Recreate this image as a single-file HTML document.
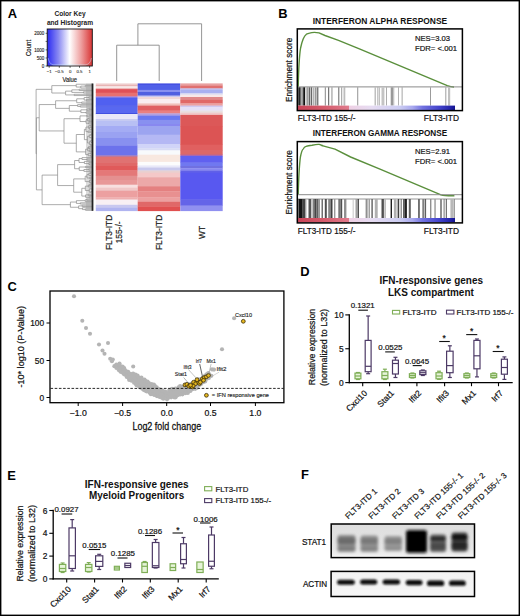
<!DOCTYPE html>
<html><head><meta charset="utf-8"><style>
html,body{margin:0;padding:0;background:#fff;}
svg{display:block;font-family:"Liberation Sans", sans-serif;}
</style></head><body>
<svg width="520" height="616" viewBox="0 0 520 616">
<rect x="0" y="0" width="520" height="616" fill="#fff"/>
<text x="7.8" y="17.7" font-size="12.9" text-anchor="start" font-weight="bold" fill="#000">A</text>
<text x="70" y="16" font-size="6.6" text-anchor="middle" font-weight="bold" fill="#222">Color Key</text>
<text x="70" y="24.6" font-size="6.6" text-anchor="middle" font-weight="bold" fill="#222">and Histogram</text>
<defs><linearGradient id="ck" x1="0" x2="1" y1="0" y2="0"><stop offset="0" stop-color="#2a2af2"/><stop offset="0.25" stop-color="#8a8af2"/><stop offset="0.5" stop-color="#ffffff"/><stop offset="0.75" stop-color="#eea0a0"/><stop offset="1" stop-color="#d83434"/></linearGradient></defs>
<rect x="47.2" y="29" width="45.1" height="37" fill="url(#ck)" stroke="#111" stroke-width="0.9"/>
<path d="M48.2 58 C49 62 50.5 64.3 53 64.8 L86 64.8 C89 64.3 90.6 62 91.4 58" fill="none" stroke="#c8f0ff" stroke-width="0.8" opacity="0.55"/>
<line x1="45.6" y1="33.3" x2="47.2" y2="33.3" stroke="#222" stroke-width="0.7"/>
<text x="44.2" y="34.9" font-size="4.5" text-anchor="end" fill="#222" stroke="#222" stroke-width="0.113">2000</text>
<line x1="45.6" y1="41.4" x2="47.2" y2="41.4" stroke="#222" stroke-width="0.7"/>
<line x1="45.6" y1="49.9" x2="47.2" y2="49.9" stroke="#222" stroke-width="0.7"/>
<text x="44.2" y="51.5" font-size="4.5" text-anchor="end" fill="#222" stroke="#222" stroke-width="0.113">1000</text>
<line x1="45.6" y1="58" x2="47.2" y2="58" stroke="#222" stroke-width="0.7"/>
<text x="44.2" y="59.6" font-size="4.5" text-anchor="end" fill="#222" stroke="#222" stroke-width="0.113">500</text>
<line x1="45.6" y1="66" x2="47.2" y2="66" stroke="#222" stroke-width="0.7"/>
<text x="44.2" y="67.6" font-size="4.5" text-anchor="end" fill="#222" stroke="#222" stroke-width="0.113">0</text>
<line x1="49.2" y1="66" x2="49.2" y2="67.8" stroke="#222" stroke-width="0.7"/>
<text x="49.2" y="73.4" font-size="4.3" text-anchor="middle" fill="#333" stroke="#333" stroke-width="0.107">−1</text>
<line x1="59.3" y1="66" x2="59.3" y2="67.8" stroke="#222" stroke-width="0.7"/>
<text x="59.3" y="73.4" font-size="4.3" text-anchor="middle" fill="#333" stroke="#333" stroke-width="0.107">−0.5</text>
<line x1="70.1" y1="66" x2="70.1" y2="67.8" stroke="#222" stroke-width="0.7"/>
<text x="70.1" y="73.4" font-size="4.3" text-anchor="middle" fill="#333" stroke="#333" stroke-width="0.107">0</text>
<line x1="79.5" y1="66" x2="79.5" y2="67.8" stroke="#222" stroke-width="0.7"/>
<text x="79.5" y="73.4" font-size="4.3" text-anchor="middle" fill="#333" stroke="#333" stroke-width="0.107">0.5</text>
<line x1="89.6" y1="66" x2="89.6" y2="67.8" stroke="#222" stroke-width="0.7"/>
<text x="89.6" y="73.4" font-size="4.3" text-anchor="middle" fill="#333" stroke="#333" stroke-width="0.107">1</text>
<text x="69.8" y="82.2" font-size="7.2" text-anchor="middle" fill="#222" stroke="#222" stroke-width="0.18" textLength="14.6" lengthAdjust="spacingAndGlyphs">Value</text>
<text x="31.2" y="48" font-size="7.0" text-anchor="middle" fill="#222" stroke="#222" stroke-width="0.175" transform="rotate(-90 31.2 48)" textLength="16.2" lengthAdjust="spacingAndGlyphs">Count</text>
<path d="M116.7 81 V45.2 H159.2 V81 M137.9 45.2 V23.8 H201.6 V81" fill="none" stroke="#8a8a8a" stroke-width="0.9"/>
<rect x="95.8" y="83.4" width="41.9" height="1.8" fill="#f0d0d0" stroke="none" stroke-width="1"/>
<rect x="95.8" y="84.9" width="41.9" height="1.7" fill="#e8b4b4" stroke="none" stroke-width="1"/>
<rect x="95.8" y="86.3" width="41.9" height="2.4" fill="#f8e8e8" stroke="none" stroke-width="1"/>
<rect x="95.8" y="88.4" width="41.9" height="1.0" fill="#e89090" stroke="none" stroke-width="1"/>
<rect x="95.8" y="89.1" width="41.9" height="3.9" fill="#e05058" stroke="none" stroke-width="1"/>
<rect x="95.8" y="92.7" width="41.9" height="3.9" fill="#e87070" stroke="none" stroke-width="1"/>
<rect x="95.8" y="96.3" width="41.9" height="1.4" fill="#a878c8" stroke="none" stroke-width="1"/>
<rect x="95.8" y="97.4" width="41.9" height="8.5" fill="#5060f0" stroke="none" stroke-width="1"/>
<rect x="95.8" y="105.6" width="41.9" height="1.3" fill="#4a58e8" stroke="none" stroke-width="1"/>
<rect x="95.8" y="106.6" width="41.9" height="6.7" fill="#5868f0" stroke="none" stroke-width="1"/>
<rect x="95.8" y="113.0" width="41.9" height="1.3" fill="#4050e0" stroke="none" stroke-width="1"/>
<rect x="95.8" y="114" width="41.9" height="5.3" fill="#e8e8f8" stroke="none" stroke-width="1"/>
<rect x="95.8" y="119" width="41.9" height="1.9" fill="#c8ccf0" stroke="none" stroke-width="1"/>
<rect x="95.8" y="120.6" width="41.9" height="5.7" fill="#b8c0f4" stroke="none" stroke-width="1"/>
<rect x="95.8" y="126" width="41.9" height="6.3" fill="#a4acf4" stroke="none" stroke-width="1"/>
<rect x="95.8" y="132" width="41.9" height="6.3" fill="#9aa2f2" stroke="none" stroke-width="1"/>
<rect x="95.8" y="138" width="41.9" height="7.7" fill="#8890f0" stroke="none" stroke-width="1"/>
<rect x="95.8" y="145.4" width="41.9" height="10.3" fill="#6c72ec" stroke="none" stroke-width="1"/>
<rect x="95.8" y="155.4" width="41.9" height="1.5" fill="#a070b0" stroke="none" stroke-width="1"/>
<rect x="95.8" y="156.6" width="41.9" height="6.7" fill="#e07272" stroke="none" stroke-width="1"/>
<rect x="95.8" y="163" width="41.9" height="3.3" fill="#e06868" stroke="none" stroke-width="1"/>
<rect x="95.8" y="166" width="41.9" height="4.8" fill="#e05a5a" stroke="none" stroke-width="1"/>
<rect x="95.8" y="170.5" width="41.9" height="5.5" fill="#e47878" stroke="none" stroke-width="1"/>
<rect x="95.8" y="175.7" width="41.9" height="4.6" fill="#e49090" stroke="none" stroke-width="1"/>
<rect x="95.8" y="180" width="41.9" height="5.0" fill="#e89898" stroke="none" stroke-width="1"/>
<rect x="95.8" y="184.7" width="41.9" height="3.3" fill="#f8e0e0" stroke="none" stroke-width="1"/>
<rect x="95.8" y="187.7" width="41.9" height="3.2" fill="#f0c8c8" stroke="none" stroke-width="1"/>
<rect x="95.8" y="190.6" width="41.9" height="7.1" fill="#eca0a0" stroke="none" stroke-width="1"/>
<rect x="95.8" y="197.4" width="41.9" height="2.5" fill="#eeb0b0" stroke="none" stroke-width="1"/>
<rect x="95.8" y="199.6" width="41.9" height="5.5" fill="#f8f0f4" stroke="none" stroke-width="1"/>
<rect x="95.8" y="204.8" width="41.9" height="3.3" fill="#c8c8f0" stroke="none" stroke-width="1"/>
<rect x="95.8" y="207.8" width="41.9" height="3.3" fill="#b0b4f0" stroke="none" stroke-width="1"/>
<rect x="137.7" y="83.4" width="42.6" height="1.8" fill="#4450e0" stroke="none" stroke-width="1"/>
<rect x="137.7" y="84.9" width="42.6" height="5.3" fill="#5060e8" stroke="none" stroke-width="1"/>
<rect x="137.7" y="89.9" width="42.6" height="2.4" fill="#8890f0" stroke="none" stroke-width="1"/>
<rect x="137.7" y="92" width="42.6" height="3.9" fill="#5060e0" stroke="none" stroke-width="1"/>
<rect x="137.7" y="95.6" width="42.6" height="1.7" fill="#c8c8f0" stroke="none" stroke-width="1"/>
<rect x="137.7" y="97" width="42.6" height="2.4" fill="#f0d8d8" stroke="none" stroke-width="1"/>
<rect x="137.7" y="99.1" width="42.6" height="4.6" fill="#faeeee" stroke="none" stroke-width="1"/>
<rect x="137.7" y="103.4" width="42.6" height="2.5" fill="#f0c0b8" stroke="none" stroke-width="1"/>
<rect x="137.7" y="105.6" width="42.6" height="5.3" fill="#e06060" stroke="none" stroke-width="1"/>
<rect x="137.7" y="110.6" width="42.6" height="3.1" fill="#e88080" stroke="none" stroke-width="1"/>
<rect x="137.7" y="113.4" width="42.6" height="2.5" fill="#b0a0e0" stroke="none" stroke-width="1"/>
<rect x="137.7" y="115.6" width="42.6" height="4.6" fill="#6878f0" stroke="none" stroke-width="1"/>
<rect x="137.7" y="119.9" width="42.6" height="4.4" fill="#8890f0" stroke="none" stroke-width="1"/>
<rect x="137.7" y="124" width="42.6" height="2.3" fill="#8888f0" stroke="none" stroke-width="1"/>
<rect x="137.7" y="126" width="42.6" height="9.0" fill="#9ca4f0" stroke="none" stroke-width="1"/>
<rect x="137.7" y="134.7" width="42.6" height="9.6" fill="#b4b8f4" stroke="none" stroke-width="1"/>
<rect x="137.7" y="144" width="42.6" height="4.6" fill="#d0d4f8" stroke="none" stroke-width="1"/>
<rect x="137.7" y="148.3" width="42.6" height="2.4" fill="#d8dcf4" stroke="none" stroke-width="1"/>
<rect x="137.7" y="150.4" width="42.6" height="4.6" fill="#f8fafc" stroke="none" stroke-width="1"/>
<rect x="137.7" y="154.7" width="42.6" height="7.5" fill="#f8e8e0" stroke="none" stroke-width="1"/>
<rect x="137.7" y="161.9" width="42.6" height="3.8" fill="#fcfcfc" stroke="none" stroke-width="1"/>
<rect x="137.7" y="165.4" width="42.6" height="2.4" fill="#e8e8f8" stroke="none" stroke-width="1"/>
<rect x="137.7" y="167.5" width="42.6" height="3.3" fill="#c8c8ec" stroke="none" stroke-width="1"/>
<rect x="137.7" y="170.5" width="42.6" height="2.5" fill="#e8d0d0" stroke="none" stroke-width="1"/>
<rect x="137.7" y="172.7" width="42.6" height="4.8" fill="#f4c8c8" stroke="none" stroke-width="1"/>
<rect x="137.7" y="177.2" width="42.6" height="9.3" fill="#eca8a8" stroke="none" stroke-width="1"/>
<rect x="137.7" y="186.2" width="42.6" height="5.5" fill="#e48080" stroke="none" stroke-width="1"/>
<rect x="137.7" y="191.4" width="42.6" height="6.3" fill="#e89090" stroke="none" stroke-width="1"/>
<rect x="137.7" y="197.4" width="42.6" height="4.7" fill="#eca0a0" stroke="none" stroke-width="1"/>
<rect x="137.7" y="201.8" width="42.6" height="4.8" fill="#e06868" stroke="none" stroke-width="1"/>
<rect x="137.7" y="206.3" width="42.6" height="4.8" fill="#e05050" stroke="none" stroke-width="1"/>
<rect x="180.3" y="83.4" width="42.4" height="2.5" fill="#e8a0a0" stroke="none" stroke-width="1"/>
<rect x="180.3" y="85.6" width="42.4" height="3.1" fill="#e07070" stroke="none" stroke-width="1"/>
<rect x="180.3" y="88.4" width="42.4" height="1.8" fill="#c0c0f0" stroke="none" stroke-width="1"/>
<rect x="180.3" y="89.9" width="42.4" height="3.8" fill="#a8b0f0" stroke="none" stroke-width="1"/>
<rect x="180.3" y="93.4" width="42.4" height="1.8" fill="#e0e0f0" stroke="none" stroke-width="1"/>
<rect x="180.3" y="94.9" width="42.4" height="2.4" fill="#f8e8e8" stroke="none" stroke-width="1"/>
<rect x="180.3" y="97" width="42.4" height="3.2" fill="#e08888" stroke="none" stroke-width="1"/>
<rect x="180.3" y="99.9" width="42.4" height="3.8" fill="#e06868" stroke="none" stroke-width="1"/>
<rect x="180.3" y="103.4" width="42.4" height="2.5" fill="#eca0a0" stroke="none" stroke-width="1"/>
<rect x="180.3" y="105.6" width="42.4" height="1.7" fill="#d0c8f0" stroke="none" stroke-width="1"/>
<rect x="180.3" y="107" width="42.4" height="3.9" fill="#e4e0f8" stroke="none" stroke-width="1"/>
<rect x="180.3" y="110.6" width="42.4" height="2.4" fill="#e8e0e0" stroke="none" stroke-width="1"/>
<rect x="180.3" y="112.7" width="42.4" height="2.5" fill="#f0c8c8" stroke="none" stroke-width="1"/>
<rect x="180.3" y="114.9" width="42.4" height="11.4" fill="#dc5858" stroke="none" stroke-width="1"/>
<rect x="180.3" y="126" width="42.4" height="19.0" fill="#dc5454" stroke="none" stroke-width="1"/>
<rect x="180.3" y="144.7" width="42.4" height="5.6" fill="#e06060" stroke="none" stroke-width="1"/>
<rect x="180.3" y="150" width="42.4" height="5.0" fill="#dc6868" stroke="none" stroke-width="1"/>
<rect x="180.3" y="154.7" width="42.4" height="1.6" fill="#a868b0" stroke="none" stroke-width="1"/>
<rect x="180.3" y="156" width="42.4" height="6.9" fill="#6060f0" stroke="none" stroke-width="1"/>
<rect x="180.3" y="162.6" width="42.4" height="3.7" fill="#7078f0" stroke="none" stroke-width="1"/>
<rect x="180.3" y="166" width="42.4" height="2.5" fill="#7070e0" stroke="none" stroke-width="1"/>
<rect x="180.3" y="168.2" width="42.4" height="2.6" fill="#8888f0" stroke="none" stroke-width="1"/>
<rect x="180.3" y="170.5" width="42.4" height="2.5" fill="#6060e8" stroke="none" stroke-width="1"/>
<rect x="180.3" y="172.7" width="42.4" height="27.2" fill="#5858f0" stroke="none" stroke-width="1"/>
<rect x="180.3" y="199.6" width="42.4" height="6.3" fill="#6464e8" stroke="none" stroke-width="1"/>
<rect x="180.3" y="205.6" width="42.4" height="5.5" fill="#9090f0" stroke="none" stroke-width="1"/>
<path d="M85.18 85.47V86.72M85.18 85.47H93.00M85.18 86.72H93.00M80.80 86.10V87.97M80.80 86.10H85.18M80.80 87.97H93.00M76.20 84.22V87.04M76.20 84.22H93.00M76.20 87.04H80.80M51.80 85.63H76.20M79.19 89.23V90.50M79.19 89.23H93.00M79.19 90.50H93.00M83.44 91.77V93.03M83.44 91.77H93.00M83.44 93.03H93.00M71.82 89.87V92.40M71.82 89.87H79.19M71.82 92.40H83.44M74.25 94.30V95.57M74.25 94.30H93.00M74.25 95.57H93.00M65.60 91.13V94.93M65.60 91.13H71.82M65.60 94.93H74.25M51.80 93.03H65.60M51.80 85.63V93.03M36.10 89.33H51.80M88.87 96.85V98.15M88.87 96.85H93.00M88.87 98.15H93.00M86.40 99.45V100.75M86.40 99.45H93.00M86.40 100.75H93.00M84.15 97.50V100.10M84.15 97.50H88.87M84.15 100.10H86.40M81.65 102.05V103.35M81.65 102.05H93.00M81.65 103.35H93.00M76.70 98.80V102.70M76.70 98.80H84.15M76.70 102.70H81.65M55.60 100.75H76.70M80.22 105.84V107.06M80.22 105.84H93.00M80.22 107.06H93.00M77.62 104.61V106.45M77.62 104.61H93.00M77.62 106.45H80.22M89.17 108.29V109.51M89.17 108.29H93.00M89.17 109.51H93.00M86.93 108.90V110.74M86.93 108.90H89.17M86.93 110.74H93.00M85.88 111.96V113.19M85.88 111.96H93.00M85.88 113.19H93.00M80.87 109.82V112.57M80.87 109.82H86.93M80.87 112.57H85.88M69.30 105.53V111.20M69.30 105.53H77.62M69.30 111.20H80.87M55.60 108.36H69.30M55.60 100.75V108.36M39.20 104.56H55.60M89.71 114.39V115.58M89.71 114.39H93.00M89.71 115.58H93.00M86.96 114.99V116.77M86.96 114.99H89.71M86.96 116.77H93.00M88.77 117.96V119.15M88.77 117.96H93.00M88.77 119.15H93.00M88.85 120.34V121.53M88.85 120.34H93.00M88.85 121.53H93.00M87.40 118.56V120.93M87.40 118.56H88.77M87.40 120.93H88.85M88.56 122.72V123.91M88.56 122.72H93.00M88.56 123.91H93.00M86.07 119.74V123.31M86.07 119.74H87.40M86.07 123.31H88.56M80.00 115.88V121.53M80.00 115.88H86.96M80.00 121.53H86.07M64.00 118.70H80.00M90.27 125.10V126.29M90.27 125.10H93.00M90.27 126.29H93.00M91.31 128.68V129.88M91.31 128.68H93.00M91.31 129.88H93.00M89.33 127.49V129.28M89.33 127.49H93.00M89.33 129.28H91.31M88.68 125.69V128.38M88.68 125.69H90.27M88.68 128.38H89.33M87.81 131.07V132.26M87.81 131.07H93.00M87.81 132.26H93.00M85.95 127.04V131.67M85.95 127.04H88.68M85.95 131.67H87.81M91.65 133.46V134.65M91.65 133.46H93.00M91.65 134.65H93.00M90.99 134.06V135.85M90.99 134.06H91.65M90.99 135.85H93.00M91.05 137.04V138.24M91.05 137.04H93.00M91.05 138.24H93.00M89.26 134.95V137.64M89.26 134.95H90.99M89.26 137.64H91.05M91.89 139.43V140.62M91.89 139.43H93.00M91.89 140.62H93.00M92.08 141.82V143.01M92.08 141.82H93.00M92.08 143.01H93.00M91.07 140.03V142.42M91.07 140.03H91.89M91.07 142.42H92.08M90.50 144.21V145.40M90.50 144.21H93.00M90.50 145.40H93.00M89.71 141.22V144.81M89.71 141.22H91.07M89.71 144.81H90.50M87.42 136.30V143.01M87.42 136.30H89.26M87.42 143.01H89.71M84.40 129.35V139.65M84.40 129.35H85.95M84.40 139.65H87.42M76.30 134.50H84.40M89.24 147.83V149.06M89.24 147.83H93.00M89.24 149.06H93.00M88.56 146.61V148.44M88.56 146.61H93.00M88.56 148.44H89.24M89.34 150.28V151.50M89.34 150.28H93.00M89.34 151.50H93.00M87.67 147.53V150.89M87.67 147.53H88.56M87.67 150.89H89.34M90.37 152.72V153.94M90.37 152.72H93.00M90.37 153.94H93.00M90.54 155.17V156.39M90.54 155.17H93.00M90.54 156.39H93.00M88.22 153.33V155.78M88.22 153.33H90.37M88.22 155.78H90.54M85.60 149.21V154.56M85.60 149.21H87.67M85.60 154.56H88.22M76.30 151.88H85.60M76.30 134.50V151.88M64.00 143.19H76.30M64.00 118.70V143.19M39.20 130.95H64.00M39.20 104.56V130.95M36.40 117.75H39.20M86.93 158.88V160.12M86.93 158.88H93.00M86.93 160.12H93.00M82.03 157.62V159.50M82.03 157.62H93.00M82.03 159.50H86.93M89.66 163.88V165.12M89.66 163.88H93.00M89.66 165.12H93.00M88.87 162.62V164.50M88.87 162.62H93.00M88.87 164.50H89.66M84.37 161.38V163.56M84.37 161.38H93.00M84.37 163.56H88.87M79.02 158.56V162.47M79.02 158.56H82.03M79.02 162.47H84.37M85.41 166.38V167.62M85.41 166.38H93.00M85.41 167.62H93.00M88.81 168.88V170.12M88.81 168.88H93.00M88.81 170.12H93.00M83.91 169.50V171.38M83.91 169.50H88.81M83.91 171.38H93.00M79.23 167.00V170.44M79.23 167.00H85.41M79.23 170.44H83.91M74.60 160.52V168.72M74.60 160.52H79.02M74.60 168.72H79.23M57.60 164.62H74.60M90.18 172.60V173.80M90.18 172.60H93.00M90.18 173.80H93.00M90.63 175.00V176.20M90.63 175.00H93.00M90.63 176.20H93.00M88.86 173.20V175.60M88.86 173.20H90.18M88.86 175.60H90.63M89.64 177.40V178.60M89.64 177.40H93.00M89.64 178.60H93.00M87.01 174.40V178.00M87.01 174.40H88.86M87.01 178.00H89.64M90.05 179.80V181.00M90.05 179.80H93.00M90.05 181.00H93.00M90.57 182.20V183.40M90.57 182.20H93.00M90.57 183.40H93.00M89.46 180.40V182.80M89.46 180.40H90.05M89.46 182.80H90.57M85.20 176.20V181.60M85.20 176.20H87.01M85.20 181.60H89.46M73.70 178.90H85.20M89.19 184.60V185.81M89.19 184.60H93.00M89.19 185.81H93.00M88.31 185.21V187.02M88.31 185.21H89.19M88.31 187.02H93.00M91.28 188.23V189.44M91.28 188.23H93.00M91.28 189.44H93.00M91.65 190.65V191.85M91.65 190.65H93.00M91.65 191.85H93.00M91.11 191.25V193.06M91.11 191.25H91.65M91.11 193.06H93.00M89.26 188.83V192.16M89.26 188.83H91.28M89.26 192.16H91.11M85.34 186.11V190.49M85.34 186.11H88.31M85.34 190.49H89.26M88.17 194.27V195.48M88.17 194.27H93.00M88.17 195.48H93.00M89.15 196.69V197.90M89.15 196.69H93.00M89.15 197.90H93.00M85.55 194.88V197.29M85.55 194.88H88.17M85.55 197.29H89.15M81.80 188.30V196.08M81.80 188.30H85.34M81.80 196.08H85.55M73.70 192.19H81.80M73.70 178.90V192.19M57.60 185.55H73.70M57.60 164.62V185.55M42.10 175.08H57.60M86.79 199.12V200.35M86.79 199.12H93.00M86.79 200.35H93.00M85.23 199.73V201.57M85.23 199.73H86.79M85.23 201.57H93.00M80.29 202.81V204.04M80.29 202.81H93.00M80.29 204.04H93.00M76.41 200.65V203.42M76.41 200.65H85.23M76.41 203.42H80.29M82.15 205.26V206.50M82.15 205.26H93.00M82.15 206.50H93.00M85.31 208.95V210.19M85.31 208.95H93.00M85.31 210.19H93.00M82.45 207.73V209.57M82.45 207.73H93.00M82.45 209.57H85.31M78.64 205.88V208.65M78.64 205.88H82.15M78.64 208.65H82.45M70.40 202.04V207.26M70.40 202.04H76.41M70.40 207.26H78.64M42.10 204.65H70.40M42.10 175.08V204.65M36.40 189.87H42.10M36.40 117.75V189.87M36.10 153.81H36.40M36.10 89.33V153.81" fill="none" stroke="#8a8a8a" stroke-width="0.7"/>
<rect x="86" y="83.6" width="5.6" height="127.2" fill="#999" opacity="0.35"/>
<rect x="91.6" y="83.5" width="1.8" height="127.3" fill="#222" stroke="none" stroke-width="1"/>
<text x="111.6" y="232.4" font-size="8.4" text-anchor="middle" fill="#222" stroke="#222" stroke-width="0.21" transform="rotate(-90 111.6 232.4)">FLT3-ITD</text>
<text x="121.8" y="232.4" font-size="8.4" text-anchor="middle" fill="#222" stroke="#222" stroke-width="0.21" transform="rotate(-90 121.8 232.4)">155-/-</text>
<text x="162" y="232.4" font-size="8.4" text-anchor="middle" fill="#222" stroke="#222" stroke-width="0.21" transform="rotate(-90 162 232.4)">FLT3-ITD</text>
<text x="204.6" y="232.4" font-size="8.4" text-anchor="middle" fill="#222" stroke="#222" stroke-width="0.21" transform="rotate(-90 204.6 232.4)">WT</text>
<text x="278.2" y="17.8" font-size="12.9" text-anchor="start" font-weight="bold" fill="#000">B</text>
<text x="379.9" y="23.6" font-size="8.8" text-anchor="middle" font-weight="bold" fill="#111" textLength="134.5" lengthAdjust="spacingAndGlyphs">INTERFERON ALPHA RESPONSE</text>
<path d="M298.2 87 C298.6 70 299.2 56 300.6 48 C302 41 304 36 306.4 34.2 L309.5 33.2 C312 32.3 316 32.3 319 32.9 L325 35.5 L338.5 40.4 L360 49.2 L447.3 85.6 C450 86.6 452 87 454 87" fill="none" stroke="#5a8f3c" stroke-width="1.4" stroke-linejoin="round"/>
<line x1="297.6" y1="86.9" x2="462" y2="86.9" stroke="#8a8a8a" stroke-width="1"/>
<rect x="298.3" y="87.3" width="1.6" height="18.299999999999997" fill="#111" stroke="none" stroke-width="1"/>
<rect x="300.3" y="87.3" width="1.0" height="18.299999999999997" fill="#333" stroke="none" stroke-width="1"/>
<rect x="301.8" y="87.3" width="0.8" height="18.299999999999997" fill="#555" stroke="none" stroke-width="1"/>
<rect x="303.2" y="87.3" width="1.9" height="18.299999999999997" fill="#111" stroke="none" stroke-width="1"/>
<rect x="305.8" y="87.3" width="0.8" height="18.299999999999997" fill="#999" stroke="none" stroke-width="1"/>
<rect x="307.3" y="87.3" width="1.2" height="18.299999999999997" fill="#777" stroke="none" stroke-width="1"/>
<rect x="309.0" y="87.3" width="1.4" height="18.299999999999997" fill="#666" stroke="none" stroke-width="1"/>
<rect x="311.2" y="87.3" width="1.0" height="18.299999999999997" fill="#444" stroke="none" stroke-width="1"/>
<rect x="313.1" y="87.3" width="1.2" height="18.299999999999997" fill="#aaa" stroke="none" stroke-width="1"/>
<rect x="314.8" y="87.3" width="1.8" height="18.299999999999997" fill="#999" stroke="none" stroke-width="1"/>
<rect x="317.3" y="87.3" width="1.0" height="18.299999999999997" fill="#444" stroke="none" stroke-width="1"/>
<rect x="324.8" y="87.3" width="1.0" height="18.299999999999997" fill="#888" stroke="none" stroke-width="1"/>
<rect x="328.2" y="87.3" width="1.0" height="18.299999999999997" fill="#555" stroke="none" stroke-width="1"/>
<rect x="331.4" y="87.3" width="1.1" height="18.299999999999997" fill="#999" stroke="none" stroke-width="1"/>
<rect x="338.3" y="87.3" width="1.0" height="18.299999999999997" fill="#666" stroke="none" stroke-width="1"/>
<rect x="341.2" y="87.3" width="1.0" height="18.299999999999997" fill="#999" stroke="none" stroke-width="1"/>
<rect x="343.5" y="87.3" width="1.1" height="18.299999999999997" fill="#bbb" stroke="none" stroke-width="1"/>
<rect x="344.6" y="87.3" width="0.6" height="18.299999999999997" fill="#999" stroke="none" stroke-width="1"/>
<rect x="357.3" y="87.3" width="0.9" height="18.299999999999997" fill="#888" stroke="none" stroke-width="1"/>
<rect x="374.6" y="87.3" width="1.2" height="18.299999999999997" fill="#b0b0b0" stroke="none" stroke-width="1"/>
<rect x="377.5" y="87.3" width="0.8" height="18.299999999999997" fill="#909090" stroke="none" stroke-width="1"/>
<rect x="379.2" y="87.3" width="0.8" height="18.299999999999997" fill="#b0b0b0" stroke="none" stroke-width="1"/>
<rect x="381.5" y="87.3" width="2.9" height="18.299999999999997" fill="#c4c4c4" stroke="none" stroke-width="1"/>
<rect x="386.1" y="87.3" width="0.8" height="18.299999999999997" fill="#999" stroke="none" stroke-width="1"/>
<rect x="390.7" y="87.3" width="2.3" height="18.299999999999997" fill="#999" stroke="none" stroke-width="1"/>
<rect x="393.4" y="87.3" width="0.8" height="18.299999999999997" fill="#a0a0a0" stroke="none" stroke-width="1"/>
<rect x="398.2" y="87.3" width="0.8" height="18.299999999999997" fill="#a0a0a0" stroke="none" stroke-width="1"/>
<rect x="401.7" y="87.3" width="0.8" height="18.299999999999997" fill="#909090" stroke="none" stroke-width="1"/>
<rect x="430.0" y="87.3" width="0.9" height="18.299999999999997" fill="#909090" stroke="none" stroke-width="1"/>
<rect x="445.3" y="87.3" width="1.0" height="18.299999999999997" fill="#a0a0a0" stroke="none" stroke-width="1"/>
<rect x="448.0" y="87.3" width="2.2" height="18.299999999999997" fill="#c0c0c0" stroke="none" stroke-width="1"/>
<defs><linearGradient id="ga1" x1="0" x2="1"><stop offset="0" stop-color="#c84458"/><stop offset="0.15" stop-color="#d45a6a"/><stop offset="0.31" stop-color="#e07a8c"/><stop offset="0.315" stop-color="#eed0e4"/><stop offset="0.45" stop-color="#e6dcf2"/><stop offset="0.62" stop-color="#cccdf2"/><stop offset="0.7" stop-color="#a8a8ee"/><stop offset="0.76" stop-color="#7272e0"/><stop offset="0.86" stop-color="#4444cc"/><stop offset="0.93" stop-color="#2424a8"/><stop offset="0.955" stop-color="#141492"/><stop offset="0.956" stop-color="#ffffff"/><stop offset="1" stop-color="#ffffff"/></linearGradient></defs>
<rect x="297.6" y="105.6" width="164.4" height="4.400000000000006" fill="url(#ga1)" stroke="none" stroke-width="1"/>
<rect x="297.3" y="28.9" width="165.1" height="81.69999999999999" fill="none" stroke="#000" stroke-width="1.5"/>
<text x="415" y="41.3" font-size="7.8" text-anchor="start" fill="#111" stroke="#111" stroke-width="0.195" textLength="35" lengthAdjust="spacingAndGlyphs">NES=3.03</text>
<text x="415" y="51.3" font-size="7.8" text-anchor="start" fill="#111" stroke="#111" stroke-width="0.195" textLength="42" lengthAdjust="spacingAndGlyphs">FDR= &lt;.001</text>
<text x="292.0" y="69.75" font-size="8.2" text-anchor="middle" fill="#111" stroke="#111" stroke-width="0.205" transform="rotate(-90 292.0 69.75)" textLength="64.4" lengthAdjust="spacingAndGlyphs">Enrichment score</text>
<text x="297.8" y="121.3" font-size="9.0" text-anchor="start" fill="#111" stroke="#111" stroke-width="0.225" textLength="57.6" lengthAdjust="spacingAndGlyphs">FLT3-ITD 155-/-</text>
<text x="459" y="121.3" font-size="9.0" text-anchor="end" fill="#111" stroke="#111" stroke-width="0.225" textLength="35.2" lengthAdjust="spacingAndGlyphs">FLT3-ITD</text>
<text x="379.9" y="136.4" font-size="8.8" text-anchor="middle" font-weight="bold" fill="#111" textLength="134.5" lengthAdjust="spacingAndGlyphs">INTERFERON GAMMA RESPONSE</text>
<path d="M298.2 194.5 C298.6 180 299.2 166 300.4 157 C301.4 152 302.4 149.5 303.2 149 C304 147.4 305 146.6 306 146.4 C308 145.6 310 145.4 312 145.2 C315 144.6 317 144.2 319 144.4 C321 145 322 145.6 323 145.8 L335 149.2 L350.6 157 L380 169.1 L441 194.8 C444 195.8 447 195.9 454.4 195.8" fill="none" stroke="#5a8f3c" stroke-width="1.4" stroke-linejoin="round"/>
<line x1="297.6" y1="194.7" x2="462" y2="194.7" stroke="#8a8a8a" stroke-width="1"/>
<line x1="297.6" y1="199.0" x2="462" y2="199.0" stroke="#8a8a8a" stroke-width="0.9"/>
<rect x="298.4" y="199.0" width="4.3" height="19.0" fill="#141414" stroke="none" stroke-width="1"/>
<rect x="302.7" y="199.0" width="2.9" height="19.0" fill="#444" stroke="none" stroke-width="1"/>
<rect x="305.6" y="199.0" width="1.0" height="19.0" fill="#c0c0c0" stroke="none" stroke-width="1"/>
<rect x="308.5" y="199.0" width="2.9" height="19.0" fill="#555" stroke="none" stroke-width="1"/>
<rect x="311.4" y="199.0" width="1.4" height="19.0" fill="#d0d0d0" stroke="none" stroke-width="1"/>
<rect x="312.8" y="199.0" width="1.5" height="19.0" fill="#808080" stroke="none" stroke-width="1"/>
<rect x="314.3" y="199.0" width="2.2" height="19.0" fill="#454545" stroke="none" stroke-width="1"/>
<rect x="316.5" y="199.0" width="2.1" height="19.0" fill="#606060" stroke="none" stroke-width="1"/>
<rect x="318.6" y="199.0" width="1.4" height="19.0" fill="#999" stroke="none" stroke-width="1"/>
<rect x="321.5" y="199.0" width="1.5" height="19.0" fill="#707070" stroke="none" stroke-width="1"/>
<rect x="324.8" y="199.0" width="2.0" height="19.0" fill="#505050" stroke="none" stroke-width="1"/>
<rect x="328.2" y="199.0" width="2.4" height="19.0" fill="#858585" stroke="none" stroke-width="1"/>
<rect x="330.6" y="199.0" width="1.9" height="19.0" fill="#404040" stroke="none" stroke-width="1"/>
<rect x="334" y="199.0" width="1.4" height="19.0" fill="#999" stroke="none" stroke-width="1"/>
<rect x="338.3" y="199.0" width="2.4" height="19.0" fill="#757575" stroke="none" stroke-width="1"/>
<rect x="340.7" y="199.0" width="1.5" height="19.0" fill="#505050" stroke="none" stroke-width="1"/>
<rect x="344" y="199.0" width="2.4" height="19.0" fill="#909090" stroke="none" stroke-width="1"/>
<rect x="352.7" y="199.0" width="0.9" height="19.0" fill="#c0c0c0" stroke="none" stroke-width="1"/>
<rect x="355.5" y="199.0" width="1.5" height="19.0" fill="#a0a0a0" stroke="none" stroke-width="1"/>
<rect x="357.5" y="199.0" width="1.4" height="19.0" fill="#404040" stroke="none" stroke-width="1"/>
<rect x="365.6" y="199.0" width="2.0" height="19.0" fill="#909090" stroke="none" stroke-width="1"/>
<rect x="368.5" y="199.0" width="1.5" height="19.0" fill="#a0a0a0" stroke="none" stroke-width="1"/>
<rect x="371.4" y="199.0" width="1.4" height="19.0" fill="#606060" stroke="none" stroke-width="1"/>
<rect x="374.8" y="199.0" width="2.9" height="19.0" fill="#b0b0b0" stroke="none" stroke-width="1"/>
<rect x="381.5" y="199.0" width="2.4" height="19.0" fill="#505050" stroke="none" stroke-width="1"/>
<rect x="384.4" y="199.0" width="1.4" height="19.0" fill="#b0b0b0" stroke="none" stroke-width="1"/>
<rect x="390.6" y="199.0" width="1.4" height="19.0" fill="#202020" stroke="none" stroke-width="1"/>
<rect x="393.9" y="199.0" width="2.4" height="19.0" fill="#b0b0b0" stroke="none" stroke-width="1"/>
<rect x="396.3" y="199.0" width="1.5" height="19.0" fill="#c8c8c8" stroke="none" stroke-width="1"/>
<rect x="397.8" y="199.0" width="1.4" height="19.0" fill="#404040" stroke="none" stroke-width="1"/>
<rect x="400.7" y="199.0" width="0.9" height="19.0" fill="#505050" stroke="none" stroke-width="1"/>
<rect x="403" y="199.0" width="1.5" height="19.0" fill="#606060" stroke="none" stroke-width="1"/>
<rect x="404.5" y="199.0" width="2.4" height="19.0" fill="#202020" stroke="none" stroke-width="1"/>
<rect x="408.8" y="199.0" width="2.0" height="19.0" fill="#606060" stroke="none" stroke-width="1"/>
<rect x="418" y="199.0" width="1.9" height="19.0" fill="#707070" stroke="none" stroke-width="1"/>
<rect x="422.3" y="199.0" width="1.9" height="19.0" fill="#808080" stroke="none" stroke-width="1"/>
<rect x="424.7" y="199.0" width="1.4" height="19.0" fill="#606060" stroke="none" stroke-width="1"/>
<rect x="430" y="199.0" width="1.4" height="19.0" fill="#909090" stroke="none" stroke-width="1"/>
<rect x="434.3" y="199.0" width="1.5" height="19.0" fill="#a0a0a0" stroke="none" stroke-width="1"/>
<rect x="440" y="199.0" width="2" height="19.0" fill="#909090" stroke="none" stroke-width="1"/>
<rect x="443.6" y="199.0" width="1.0" height="19.0" fill="#777" stroke="none" stroke-width="1"/>
<rect x="445.8" y="199.0" width="1.0" height="19.0" fill="#555" stroke="none" stroke-width="1"/>
<rect x="450.4" y="199.0" width="3.4" height="19.0" fill="#b8b8b8" stroke="none" stroke-width="1"/>
<rect x="454.2" y="199.0" width="0.8" height="19.0" fill="#888" stroke="none" stroke-width="1"/>
<defs><linearGradient id="ga2" x1="0" x2="1"><stop offset="0" stop-color="#c84458"/><stop offset="0.15" stop-color="#d45a6a"/><stop offset="0.31" stop-color="#e07a8c"/><stop offset="0.315" stop-color="#eed0e4"/><stop offset="0.45" stop-color="#e6dcf2"/><stop offset="0.62" stop-color="#cccdf2"/><stop offset="0.7" stop-color="#a8a8ee"/><stop offset="0.76" stop-color="#7272e0"/><stop offset="0.86" stop-color="#4444cc"/><stop offset="0.93" stop-color="#2424a8"/><stop offset="0.955" stop-color="#141492"/><stop offset="0.956" stop-color="#ffffff"/><stop offset="1" stop-color="#ffffff"/></linearGradient></defs>
<rect x="297.6" y="218" width="164.4" height="4.400000000000006" fill="url(#ga2)" stroke="none" stroke-width="1"/>
<rect x="297.3" y="141.6" width="165.1" height="81.30000000000001" fill="none" stroke="#000" stroke-width="1.5"/>
<text x="415" y="153.8" font-size="7.8" text-anchor="start" fill="#111" stroke="#111" stroke-width="0.195" textLength="35" lengthAdjust="spacingAndGlyphs">NES=2.91</text>
<text x="415" y="163.8" font-size="7.8" text-anchor="start" fill="#111" stroke="#111" stroke-width="0.195" textLength="42" lengthAdjust="spacingAndGlyphs">FDR= &lt;.001</text>
<text x="292.0" y="182.25" font-size="8.2" text-anchor="middle" fill="#111" stroke="#111" stroke-width="0.205" transform="rotate(-90 292.0 182.25)" textLength="64.4" lengthAdjust="spacingAndGlyphs">Enrichment score</text>
<text x="297.8" y="234.0" font-size="9.0" text-anchor="start" fill="#111" stroke="#111" stroke-width="0.225" textLength="57.6" lengthAdjust="spacingAndGlyphs">FLT3-ITD 155-/-</text>
<text x="459" y="234.0" font-size="9.0" text-anchor="end" fill="#111" stroke="#111" stroke-width="0.225" textLength="35.2" lengthAdjust="spacingAndGlyphs">FLT3-ITD</text>
<text x="7.4" y="290.9" font-size="12.9" text-anchor="start" font-weight="bold" fill="#000">C</text>
<polygon points="114.2,365.8 120.4,365 125,370.4 132.7,374.2 141.9,378 151.2,383.5 157.3,388 166.5,392.7 171.2,389.6 178.8,387.3 187,385.5 195,382 205,376 211,372.5 211,375 205,381 195,388.3 187,392.3 175.8,396.5 166.5,398.7 163.5,398.2 151.2,393.5 140.4,387.3 128,378 117.3,368.5 114.2,366" fill="#b4b4b4"/>
<circle cx="114.4" cy="366.2" r="2.1" fill="#b4b4b4"/>
<circle cx="116.7" cy="366.2" r="2.1" fill="#b4b4b4"/>
<circle cx="118.7" cy="365.9" r="2.1" fill="#b4b4b4"/>
<circle cx="119.6" cy="364.9" r="2.1" fill="#b4b4b4"/>
<circle cx="122.6" cy="367.0" r="2.1" fill="#b4b4b4"/>
<circle cx="124.1" cy="368.0" r="2.1" fill="#b4b4b4"/>
<circle cx="125.0" cy="370.0" r="2.1" fill="#b4b4b4"/>
<circle cx="127.0" cy="371.5" r="2.1" fill="#b4b4b4"/>
<circle cx="128.1" cy="371.8" r="2.1" fill="#b4b4b4"/>
<circle cx="130.4" cy="373.9" r="2.1" fill="#b4b4b4"/>
<circle cx="133.1" cy="373.7" r="2.1" fill="#b4b4b4"/>
<circle cx="135.5" cy="374.6" r="2.1" fill="#b4b4b4"/>
<circle cx="137.5" cy="375.5" r="2.1" fill="#b4b4b4"/>
<circle cx="138.8" cy="377.6" r="2.1" fill="#b4b4b4"/>
<circle cx="141.4" cy="377.5" r="2.1" fill="#b4b4b4"/>
<circle cx="144.5" cy="379.7" r="2.1" fill="#b4b4b4"/>
<circle cx="145.3" cy="380.9" r="2.1" fill="#b4b4b4"/>
<circle cx="147.5" cy="381.6" r="2.1" fill="#b4b4b4"/>
<circle cx="148.9" cy="383.1" r="2.1" fill="#b4b4b4"/>
<circle cx="151.5" cy="384.2" r="2.1" fill="#b4b4b4"/>
<circle cx="153.9" cy="384.7" r="2.1" fill="#b4b4b4"/>
<circle cx="155.0" cy="386.0" r="2.1" fill="#b4b4b4"/>
<circle cx="156.7" cy="387.3" r="2.1" fill="#b4b4b4"/>
<circle cx="158.8" cy="389.1" r="2.1" fill="#b4b4b4"/>
<circle cx="160.2" cy="390.2" r="2.1" fill="#b4b4b4"/>
<circle cx="162.6" cy="390.5" r="2.1" fill="#b4b4b4"/>
<circle cx="165.2" cy="391.7" r="2.1" fill="#b4b4b4"/>
<circle cx="166.2" cy="392.7" r="2.1" fill="#b4b4b4"/>
<circle cx="169.2" cy="390.4" r="2.1" fill="#b4b4b4"/>
<circle cx="172.0" cy="388.8" r="2.1" fill="#b4b4b4"/>
<circle cx="174.1" cy="389.4" r="2.1" fill="#b4b4b4"/>
<circle cx="175.5" cy="388.5" r="2.1" fill="#b4b4b4"/>
<circle cx="178.6" cy="387.4" r="2.1" fill="#b4b4b4"/>
<circle cx="180.1" cy="386.1" r="2.1" fill="#b4b4b4"/>
<circle cx="182.4" cy="387.1" r="2.1" fill="#b4b4b4"/>
<circle cx="184.5" cy="386.4" r="2.1" fill="#b4b4b4"/>
<circle cx="187.7" cy="386.2" r="2.1" fill="#b4b4b4"/>
<circle cx="188.8" cy="384.4" r="2.1" fill="#b4b4b4"/>
<circle cx="191.0" cy="384.2" r="2.1" fill="#b4b4b4"/>
<circle cx="192.4" cy="383.3" r="2.1" fill="#b4b4b4"/>
<circle cx="195.5" cy="382.6" r="2.1" fill="#b4b4b4"/>
<circle cx="196.3" cy="381.5" r="2.1" fill="#b4b4b4"/>
<circle cx="198.3" cy="379.3" r="2.1" fill="#b4b4b4"/>
<circle cx="201.2" cy="379.1" r="2.1" fill="#b4b4b4"/>
<circle cx="202.7" cy="377.9" r="2.1" fill="#b4b4b4"/>
<circle cx="205.1" cy="375.7" r="2.1" fill="#b4b4b4"/>
<circle cx="206.7" cy="374.3" r="2.1" fill="#b4b4b4"/>
<circle cx="208.3" cy="373.1" r="2.1" fill="#b4b4b4"/>
<circle cx="211.3" cy="375.8" r="2.1" fill="#b4b4b4"/>
<circle cx="209.0" cy="375.8" r="2.1" fill="#b4b4b4"/>
<circle cx="208.8" cy="378.1" r="2.1" fill="#b4b4b4"/>
<circle cx="206.3" cy="379.1" r="2.1" fill="#b4b4b4"/>
<circle cx="205.2" cy="381.5" r="2.1" fill="#b4b4b4"/>
<circle cx="203.3" cy="382.1" r="2.1" fill="#b4b4b4"/>
<circle cx="201.0" cy="384.1" r="2.1" fill="#b4b4b4"/>
<circle cx="199.3" cy="384.6" r="2.1" fill="#b4b4b4"/>
<circle cx="198.9" cy="385.3" r="2.1" fill="#b4b4b4"/>
<circle cx="197.0" cy="387.8" r="2.1" fill="#b4b4b4"/>
<circle cx="195.2" cy="388.8" r="2.1" fill="#b4b4b4"/>
<circle cx="192.4" cy="389.2" r="2.1" fill="#b4b4b4"/>
<circle cx="190.4" cy="390.9" r="2.1" fill="#b4b4b4"/>
<circle cx="188.7" cy="391.2" r="2.1" fill="#b4b4b4"/>
<circle cx="187.8" cy="392.9" r="2.1" fill="#b4b4b4"/>
<circle cx="185.5" cy="393.1" r="2.1" fill="#b4b4b4"/>
<circle cx="182.5" cy="394.3" r="2.1" fill="#b4b4b4"/>
<circle cx="180.2" cy="394.5" r="2.1" fill="#b4b4b4"/>
<circle cx="177.9" cy="395.1" r="2.1" fill="#b4b4b4"/>
<circle cx="175.6" cy="397.3" r="2.1" fill="#b4b4b4"/>
<circle cx="174.2" cy="397.3" r="2.1" fill="#b4b4b4"/>
<circle cx="171.1" cy="397.3" r="2.1" fill="#b4b4b4"/>
<circle cx="168.2" cy="397.8" r="2.1" fill="#b4b4b4"/>
<circle cx="167.0" cy="399.3" r="2.1" fill="#b4b4b4"/>
<circle cx="163.3" cy="398.7" r="2.1" fill="#b4b4b4"/>
<circle cx="161.9" cy="397.7" r="2.1" fill="#b4b4b4"/>
<circle cx="159.7" cy="397.0" r="2.1" fill="#b4b4b4"/>
<circle cx="157.1" cy="396.2" r="2.1" fill="#b4b4b4"/>
<circle cx="154.9" cy="395.0" r="2.1" fill="#b4b4b4"/>
<circle cx="153.7" cy="394.6" r="2.1" fill="#b4b4b4"/>
<circle cx="150.9" cy="394.2" r="2.1" fill="#b4b4b4"/>
<circle cx="149.6" cy="392.6" r="2.1" fill="#b4b4b4"/>
<circle cx="146.8" cy="391.5" r="2.1" fill="#b4b4b4"/>
<circle cx="145.4" cy="390.7" r="2.1" fill="#b4b4b4"/>
<circle cx="143.9" cy="389.9" r="2.1" fill="#b4b4b4"/>
<circle cx="142.4" cy="388.8" r="2.1" fill="#b4b4b4"/>
<circle cx="140.2" cy="387.5" r="2.1" fill="#b4b4b4"/>
<circle cx="139.0" cy="386.5" r="2.1" fill="#b4b4b4"/>
<circle cx="136.6" cy="385.2" r="2.1" fill="#b4b4b4"/>
<circle cx="135.7" cy="383.6" r="2.1" fill="#b4b4b4"/>
<circle cx="134.1" cy="382.7" r="2.1" fill="#b4b4b4"/>
<circle cx="131.6" cy="380.7" r="2.1" fill="#b4b4b4"/>
<circle cx="129.2" cy="379.9" r="2.1" fill="#b4b4b4"/>
<circle cx="128.7" cy="378.0" r="2.1" fill="#b4b4b4"/>
<circle cx="126.8" cy="377.0" r="2.1" fill="#b4b4b4"/>
<circle cx="125.3" cy="374.8" r="2.1" fill="#b4b4b4"/>
<circle cx="123.9" cy="374.1" r="2.1" fill="#b4b4b4"/>
<circle cx="122.2" cy="372.4" r="2.1" fill="#b4b4b4"/>
<circle cx="120.6" cy="371.7" r="2.1" fill="#b4b4b4"/>
<circle cx="119.0" cy="370.2" r="2.1" fill="#b4b4b4"/>
<circle cx="116.5" cy="368.0" r="2.1" fill="#b4b4b4"/>
<circle cx="74.0" cy="296.3" r="2.05" fill="#b4b4b4"/>
<circle cx="82.3" cy="320.8" r="2.05" fill="#b4b4b4"/>
<circle cx="86.0" cy="328.0" r="2.05" fill="#b4b4b4"/>
<circle cx="90.0" cy="333.8" r="2.05" fill="#b4b4b4"/>
<circle cx="99.0" cy="344.5" r="2.05" fill="#b4b4b4"/>
<circle cx="108.0" cy="343.0" r="2.05" fill="#b4b4b4"/>
<circle cx="102.5" cy="350.5" r="2.05" fill="#b4b4b4"/>
<circle cx="104.5" cy="353.8" r="2.05" fill="#b4b4b4"/>
<circle cx="110.2" cy="358.8" r="2.05" fill="#b4b4b4"/>
<circle cx="111.9" cy="361.2" r="2.05" fill="#b4b4b4"/>
<circle cx="112.8" cy="359.6" r="2.05" fill="#b4b4b4"/>
<circle cx="116.3" cy="364.5" r="2.05" fill="#b4b4b4"/>
<circle cx="119.5" cy="363.5" r="2.05" fill="#b4b4b4"/>
<circle cx="122.5" cy="366.5" r="2.05" fill="#b4b4b4"/>
<circle cx="133.2" cy="366.5" r="2.05" fill="#b4b4b4"/>
<circle cx="222.0" cy="349.3" r="2.05" fill="#b4b4b4"/>
<circle cx="234.1" cy="318.2" r="2.05" fill="#b4b4b4"/>
<circle cx="212.0" cy="369.4" r="2.05" fill="#b4b4b4"/>
<circle cx="214.0" cy="369.6" r="2.05" fill="#b4b4b4"/>
<line x1="50.5" y1="388.4" x2="283.5" y2="388.4" stroke="#111" stroke-width="0.9" stroke-dasharray="2.6,1.6"/>
<circle cx="184.9" cy="384.9" r="1.9" fill="#e6b820" stroke="#3a2c08" stroke-width="0.8"/>
<circle cx="186.9" cy="384.3" r="1.9" fill="#e6b820" stroke="#3a2c08" stroke-width="0.8"/>
<circle cx="188.9" cy="386.2" r="1.9" fill="#e6b820" stroke="#3a2c08" stroke-width="0.8"/>
<circle cx="192.3" cy="386.9" r="1.9" fill="#e6b820" stroke="#3a2c08" stroke-width="0.8"/>
<circle cx="193.4" cy="385.6" r="1.9" fill="#e6b820" stroke="#3a2c08" stroke-width="0.8"/>
<circle cx="193.6" cy="382.2" r="1.9" fill="#e6b820" stroke="#3a2c08" stroke-width="0.8"/>
<circle cx="195.7" cy="383.6" r="1.9" fill="#e6b820" stroke="#3a2c08" stroke-width="0.8"/>
<circle cx="197.7" cy="381.5" r="1.9" fill="#e6b820" stroke="#3a2c08" stroke-width="0.8"/>
<circle cx="199.5" cy="383.5" r="1.9" fill="#e6b820" stroke="#3a2c08" stroke-width="0.8"/>
<circle cx="200.4" cy="382.2" r="1.9" fill="#e6b820" stroke="#3a2c08" stroke-width="0.8"/>
<circle cx="202.4" cy="378.8" r="1.9" fill="#e6b820" stroke="#3a2c08" stroke-width="0.8"/>
<circle cx="204.4" cy="377.5" r="1.9" fill="#e6b820" stroke="#3a2c08" stroke-width="0.8"/>
<circle cx="206.4" cy="376.8" r="1.9" fill="#e6b820" stroke="#3a2c08" stroke-width="0.8"/>
<circle cx="208.5" cy="375.5" r="1.9" fill="#e6b820" stroke="#3a2c08" stroke-width="0.8"/>
<circle cx="190.5" cy="385.2" r="1.9" fill="#e6b820" stroke="#3a2c08" stroke-width="0.8"/>
<circle cx="197.0" cy="379.7" r="1.9" fill="#e6b820" stroke="#3a2c08" stroke-width="0.8"/>
<circle cx="203.5" cy="380.3" r="1.9" fill="#e6b820" stroke="#3a2c08" stroke-width="0.8"/>
<circle cx="243.3" cy="321.3" r="1.9" fill="#e6b820" stroke="#3a2c08" stroke-width="0.8"/>
<circle cx="206.4" cy="395.3" r="1.9" fill="#e6b820" stroke="#3a2c08" stroke-width="0.8"/>
<line x1="183.6" y1="377.5" x2="188.9" y2="383.6" stroke="#666" stroke-width="0.5"/>
<line x1="188.3" y1="369.4" x2="196.3" y2="378.2" stroke="#888" stroke-width="0.5"/>
<line x1="199.7" y1="364" x2="202.4" y2="376.2" stroke="#222" stroke-width="0.7"/>
<line x1="211.1" y1="364" x2="208.5" y2="374.8" stroke="#888" stroke-width="0.5"/>
<line x1="219.2" y1="372.1" x2="208.5" y2="378.2" stroke="#aaa" stroke-width="0.5"/>
<text x="174.8" y="375.9" font-size="5.4" text-anchor="start" fill="#222" stroke="#222" stroke-width="0.135" textLength="12.1" lengthAdjust="spacingAndGlyphs">Stat1</text>
<text x="183.6" y="368.7" font-size="5.4" text-anchor="start" fill="#222" stroke="#222" stroke-width="0.135" textLength="8" lengthAdjust="spacingAndGlyphs">Ifit3</text>
<text x="195.7" y="363.4" font-size="5.4" text-anchor="start" fill="#222" stroke="#222" stroke-width="0.135" textLength="6" lengthAdjust="spacingAndGlyphs">Irf7</text>
<text x="206.4" y="363.4" font-size="5.4" text-anchor="start" fill="#222" stroke="#222" stroke-width="0.135" textLength="9.5" lengthAdjust="spacingAndGlyphs">Mx1</text>
<text x="216.5" y="371.4" font-size="5.4" text-anchor="start" fill="#222" stroke="#222" stroke-width="0.135" textLength="10" lengthAdjust="spacingAndGlyphs">Ifit2</text>
<text x="235" y="317.2" font-size="5.6" text-anchor="start" fill="#222" stroke="#222" stroke-width="0.14" textLength="17" lengthAdjust="spacingAndGlyphs">Cxcl10</text>
<text x="211.8" y="397.2" font-size="5.4" text-anchor="start" fill="#222" stroke="#222" stroke-width="0.135" textLength="57.2" lengthAdjust="spacingAndGlyphs">= IFN responsive gene</text>
<rect x="50" y="291" width="233.9" height="111.7" fill="none" stroke="#000" stroke-width="1.3"/>
<line x1="46.5" y1="323" x2="50" y2="323" stroke="#000" stroke-width="1"/>
<text x="44.2" y="326.1" font-size="8.4" text-anchor="end" fill="#111" stroke="#111" stroke-width="0.21">100</text>
<line x1="46.5" y1="360.5" x2="50" y2="360.5" stroke="#000" stroke-width="1"/>
<text x="44.2" y="363.6" font-size="8.4" text-anchor="end" fill="#111" stroke="#111" stroke-width="0.21">50</text>
<line x1="46.5" y1="397.5" x2="50" y2="397.5" stroke="#000" stroke-width="1"/>
<text x="44.2" y="400.6" font-size="8.4" text-anchor="end" fill="#111" stroke="#111" stroke-width="0.21">0</text>
<line x1="78.2" y1="402.7" x2="78.2" y2="406" stroke="#000" stroke-width="1"/>
<text x="78.2" y="416.4" font-size="8.7" text-anchor="middle" fill="#111" stroke="#111" stroke-width="0.217">−1.0</text>
<line x1="122.6" y1="402.7" x2="122.6" y2="406" stroke="#000" stroke-width="1"/>
<text x="122.6" y="416.4" font-size="8.7" text-anchor="middle" fill="#111" stroke="#111" stroke-width="0.217">−0.5</text>
<line x1="166.7" y1="402.7" x2="166.7" y2="406" stroke="#000" stroke-width="1"/>
<text x="166.7" y="416.4" font-size="8.7" text-anchor="middle" fill="#111" stroke="#111" stroke-width="0.217">0.0</text>
<line x1="210.5" y1="402.7" x2="210.5" y2="406" stroke="#000" stroke-width="1"/>
<text x="210.5" y="416.4" font-size="8.7" text-anchor="middle" fill="#111" stroke="#111" stroke-width="0.217">0.5</text>
<line x1="255.4" y1="402.7" x2="255.4" y2="406" stroke="#000" stroke-width="1"/>
<text x="255.4" y="416.4" font-size="8.7" text-anchor="middle" fill="#111" stroke="#111" stroke-width="0.217">1.0</text>
<text x="166.8" y="430.1" font-size="10.2" text-anchor="middle" fill="#111" stroke="#111" stroke-width="0.255" textLength="68.7" lengthAdjust="spacingAndGlyphs">Log2 fold change</text>
<text x="23.9" y="346.8" font-size="8.7" text-anchor="middle" fill="#111" stroke="#111" stroke-width="0.217" transform="rotate(-90 23.9 346.8)" textLength="81.5" lengthAdjust="spacingAndGlyphs">-10* log10 (P-Value)</text>
<text x="300.2" y="276.4" font-size="12.9" text-anchor="start" font-weight="bold" fill="#000">D</text>
<text x="431.2" y="284.1" font-size="10" text-anchor="middle" font-weight="bold" fill="#111" textLength="103.6" lengthAdjust="spacingAndGlyphs">IFN-responsive genes</text>
<text x="430.9" y="295.6" font-size="10" text-anchor="middle" font-weight="bold" fill="#111" textLength="85.8" lengthAdjust="spacingAndGlyphs">LKS compartment</text>
<rect x="392.5" y="310.4" width="7.2" height="3.6" fill="#fff" stroke="#7fae57" stroke-width="1.1"/>
<text x="402.5" y="315.2" font-size="8" text-anchor="start" fill="#111" stroke="#111" stroke-width="0.2" textLength="34" lengthAdjust="spacingAndGlyphs">FLT3-ITD</text>
<rect x="446.5" y="310.2" width="7.4" height="3.8" fill="#fff" stroke="#4d3a66" stroke-width="1.1"/>
<text x="456.5" y="315.2" font-size="8" text-anchor="start" fill="#111" stroke="#111" stroke-width="0.2" textLength="56.8" lengthAdjust="spacingAndGlyphs">FLT3-ITD 155-/-</text>
<line x1="357.95" y1="372.5" x2="357.95" y2="373.1" stroke="#7fae57" stroke-width="1.2"/>
<line x1="355.95" y1="372.5" x2="359.95" y2="372.5" stroke="#7fae57" stroke-width="1.2"/>
<line x1="357.95" y1="378.8" x2="357.95" y2="379.5" stroke="#7fae57" stroke-width="1.2"/>
<line x1="355.95" y1="379.5" x2="359.95" y2="379.5" stroke="#7fae57" stroke-width="1.2"/>
<rect x="355.0" y="373.1" width="5.900000000000023" height="5.699999999999989" fill="#e6f4d8" stroke="#7fae57" stroke-width="1.2"/>
<line x1="355.0" y1="376" x2="360.9" y2="376" stroke="#7fae57" stroke-width="1.2"/>
<line x1="368.15" y1="316" x2="368.15" y2="340.4" stroke="#4d3a66" stroke-width="1.2"/>
<line x1="366.15" y1="316" x2="370.15" y2="316" stroke="#4d3a66" stroke-width="1.2"/>
<line x1="368.15" y1="371.7" x2="368.15" y2="373.7" stroke="#4d3a66" stroke-width="1.2"/>
<line x1="366.15" y1="373.7" x2="370.15" y2="373.7" stroke="#4d3a66" stroke-width="1.2"/>
<rect x="365.20000000000005" y="340.4" width="5.899999999999966" height="31.30000000000001" fill="#fff" stroke="#4d3a66" stroke-width="1.2"/>
<line x1="365.20000000000005" y1="366.3" x2="371.09999999999997" y2="366.3" stroke="#4d3a66" stroke-width="1.2"/>
<line x1="384.9" y1="369.2" x2="384.9" y2="371.7" stroke="#7fae57" stroke-width="1.2"/>
<line x1="382.9" y1="369.2" x2="386.9" y2="369.2" stroke="#7fae57" stroke-width="1.2"/>
<line x1="384.9" y1="378.8" x2="384.9" y2="379.5" stroke="#7fae57" stroke-width="1.2"/>
<line x1="382.9" y1="379.5" x2="386.9" y2="379.5" stroke="#7fae57" stroke-width="1.2"/>
<rect x="381.90000000000003" y="371.7" width="5.9999999999999885" height="7.100000000000023" fill="#e6f4d8" stroke="#7fae57" stroke-width="1.2"/>
<line x1="381.90000000000003" y1="375.5" x2="387.9" y2="375.5" stroke="#7fae57" stroke-width="1.2"/>
<line x1="395.45" y1="357.3" x2="395.45" y2="360.2" stroke="#4d3a66" stroke-width="1.2"/>
<line x1="393.45" y1="357.3" x2="397.45" y2="357.3" stroke="#4d3a66" stroke-width="1.2"/>
<line x1="395.45" y1="374" x2="395.45" y2="377.5" stroke="#4d3a66" stroke-width="1.2"/>
<line x1="393.45" y1="377.5" x2="397.45" y2="377.5" stroke="#4d3a66" stroke-width="1.2"/>
<rect x="392.5" y="360.2" width="5.900000000000023" height="13.800000000000011" fill="#fff" stroke="#4d3a66" stroke-width="1.2"/>
<line x1="392.5" y1="363.5" x2="398.4" y2="363.5" stroke="#4d3a66" stroke-width="1.2"/>
<line x1="412.4" y1="373" x2="412.4" y2="373.7" stroke="#7fae57" stroke-width="1.2"/>
<line x1="410.4" y1="373" x2="414.4" y2="373" stroke="#7fae57" stroke-width="1.2"/>
<line x1="412.4" y1="377.5" x2="412.4" y2="378" stroke="#7fae57" stroke-width="1.2"/>
<line x1="410.4" y1="378" x2="414.4" y2="378" stroke="#7fae57" stroke-width="1.2"/>
<rect x="409.40000000000003" y="373.7" width="5.9999999999999885" height="3.8000000000000114" fill="#e6f4d8" stroke="#7fae57" stroke-width="1.2"/>
<line x1="409.40000000000003" y1="375.6" x2="415.4" y2="375.6" stroke="#7fae57" stroke-width="1.2"/>
<line x1="422.85" y1="370" x2="422.85" y2="370.8" stroke="#4d3a66" stroke-width="1.2"/>
<line x1="420.85" y1="370" x2="424.85" y2="370" stroke="#4d3a66" stroke-width="1.2"/>
<line x1="422.85" y1="374.6" x2="422.85" y2="375.5" stroke="#4d3a66" stroke-width="1.2"/>
<line x1="420.85" y1="375.5" x2="424.85" y2="375.5" stroke="#4d3a66" stroke-width="1.2"/>
<rect x="419.8" y="370.8" width="6.100000000000011" height="3.8000000000000114" fill="#fff" stroke="#4d3a66" stroke-width="1.2"/>
<line x1="419.8" y1="372.7" x2="425.9" y2="372.7" stroke="#4d3a66" stroke-width="1.2"/>
<line x1="439.04999999999995" y1="371.2" x2="439.04999999999995" y2="372.7" stroke="#7fae57" stroke-width="1.2"/>
<line x1="437.04999999999995" y1="371.2" x2="441.04999999999995" y2="371.2" stroke="#7fae57" stroke-width="1.2"/>
<line x1="439.04999999999995" y1="378.8" x2="439.04999999999995" y2="379.3" stroke="#7fae57" stroke-width="1.2"/>
<line x1="437.04999999999995" y1="379.3" x2="441.04999999999995" y2="379.3" stroke="#7fae57" stroke-width="1.2"/>
<rect x="436.0" y="372.7" width="6.100000000000011" height="6.100000000000023" fill="#e6f4d8" stroke="#7fae57" stroke-width="1.2"/>
<line x1="436.0" y1="376" x2="442.09999999999997" y2="376" stroke="#7fae57" stroke-width="1.2"/>
<line x1="449.85" y1="345.8" x2="449.85" y2="351.2" stroke="#4d3a66" stroke-width="1.2"/>
<line x1="447.85" y1="345.8" x2="451.85" y2="345.8" stroke="#4d3a66" stroke-width="1.2"/>
<line x1="449.85" y1="372.7" x2="449.85" y2="377.5" stroke="#4d3a66" stroke-width="1.2"/>
<line x1="447.85" y1="377.5" x2="451.85" y2="377.5" stroke="#4d3a66" stroke-width="1.2"/>
<rect x="446.6" y="351.2" width="6.4999999999999885" height="21.5" fill="#fff" stroke="#4d3a66" stroke-width="1.2"/>
<line x1="446.6" y1="365.6" x2="453.09999999999997" y2="365.6" stroke="#4d3a66" stroke-width="1.2"/>
<line x1="466.85" y1="373" x2="466.85" y2="373.7" stroke="#7fae57" stroke-width="1.2"/>
<line x1="464.85" y1="373" x2="468.85" y2="373" stroke="#7fae57" stroke-width="1.2"/>
<line x1="466.85" y1="377.5" x2="466.85" y2="378" stroke="#7fae57" stroke-width="1.2"/>
<line x1="464.85" y1="378" x2="468.85" y2="378" stroke="#7fae57" stroke-width="1.2"/>
<rect x="463.90000000000003" y="373.7" width="5.899999999999966" height="3.8000000000000114" fill="#e6f4d8" stroke="#7fae57" stroke-width="1.2"/>
<line x1="463.90000000000003" y1="375.6" x2="469.79999999999995" y2="375.6" stroke="#7fae57" stroke-width="1.2"/>
<line x1="476.95000000000005" y1="339" x2="476.95000000000005" y2="340.4" stroke="#4d3a66" stroke-width="1.2"/>
<line x1="474.95000000000005" y1="339" x2="478.95000000000005" y2="339" stroke="#4d3a66" stroke-width="1.2"/>
<line x1="476.95000000000005" y1="368.8" x2="476.95000000000005" y2="376.9" stroke="#4d3a66" stroke-width="1.2"/>
<line x1="474.95000000000005" y1="376.9" x2="478.95000000000005" y2="376.9" stroke="#4d3a66" stroke-width="1.2"/>
<rect x="473.90000000000003" y="340.4" width="6.100000000000011" height="28.400000000000034" fill="#fff" stroke="#4d3a66" stroke-width="1.2"/>
<line x1="473.90000000000003" y1="355.8" x2="480.0" y2="355.8" stroke="#4d3a66" stroke-width="1.2"/>
<line x1="493.75" y1="373" x2="493.75" y2="373.7" stroke="#7fae57" stroke-width="1.2"/>
<line x1="491.75" y1="373" x2="495.75" y2="373" stroke="#7fae57" stroke-width="1.2"/>
<line x1="493.75" y1="377.5" x2="493.75" y2="378" stroke="#7fae57" stroke-width="1.2"/>
<line x1="491.75" y1="378" x2="495.75" y2="378" stroke="#7fae57" stroke-width="1.2"/>
<rect x="490.8" y="373.7" width="5.900000000000023" height="3.8000000000000114" fill="#e6f4d8" stroke="#7fae57" stroke-width="1.2"/>
<line x1="490.8" y1="375.6" x2="496.7" y2="375.6" stroke="#7fae57" stroke-width="1.2"/>
<line x1="504.4" y1="356.9" x2="504.4" y2="359.2" stroke="#4d3a66" stroke-width="1.2"/>
<line x1="502.4" y1="356.9" x2="506.4" y2="356.9" stroke="#4d3a66" stroke-width="1.2"/>
<line x1="504.4" y1="374.2" x2="504.4" y2="379.4" stroke="#4d3a66" stroke-width="1.2"/>
<line x1="502.4" y1="379.4" x2="506.4" y2="379.4" stroke="#4d3a66" stroke-width="1.2"/>
<rect x="501.40000000000003" y="359.2" width="5.9999999999999885" height="15.0" fill="#fff" stroke="#4d3a66" stroke-width="1.2"/>
<line x1="501.40000000000003" y1="367.5" x2="507.4" y2="367.5" stroke="#4d3a66" stroke-width="1.2"/>
<line x1="349.3" y1="314.3" x2="349.3" y2="383.2" stroke="#000" stroke-width="1.3"/>
<line x1="348.7" y1="382.6" x2="512.7" y2="382.6" stroke="#000" stroke-width="1.3"/>
<line x1="345.3" y1="314.90000000000003" x2="349.3" y2="314.90000000000003" stroke="#000" stroke-width="1.1"/>
<text x="343.6" y="317.90000000000003" font-size="8.4" text-anchor="end" fill="#111" stroke="#111" stroke-width="0.21">10</text>
<line x1="345.3" y1="348.75" x2="349.3" y2="348.75" stroke="#000" stroke-width="1.1"/>
<text x="343.6" y="351.75" font-size="8.4" text-anchor="end" fill="#111" stroke="#111" stroke-width="0.21">5</text>
<line x1="345.3" y1="382.6" x2="349.3" y2="382.6" stroke="#000" stroke-width="1.1"/>
<text x="343.6" y="385.6" font-size="8.4" text-anchor="end" fill="#111" stroke="#111" stroke-width="0.21">0</text>
<line x1="362.7" y1="382.6" x2="362.7" y2="386.2" stroke="#000" stroke-width="1.1"/>
<text x="367.7" y="393.8" font-size="8.4" text-anchor="end" fill="#111" stroke="#111" stroke-width="0.21" transform="rotate(-45 367.7 393.8)">Cxcl10</text>
<line x1="389.6" y1="382.6" x2="389.6" y2="386.2" stroke="#000" stroke-width="1.1"/>
<text x="394.6" y="393.8" font-size="8.4" text-anchor="end" fill="#111" stroke="#111" stroke-width="0.21" transform="rotate(-45 394.6 393.8)">Stat1</text>
<line x1="416.9" y1="382.6" x2="416.9" y2="386.2" stroke="#000" stroke-width="1.1"/>
<text x="421.9" y="393.8" font-size="8.4" text-anchor="end" fill="#111" stroke="#111" stroke-width="0.21" transform="rotate(-45 421.9 393.8)">Ifit2</text>
<line x1="444.6" y1="382.6" x2="444.6" y2="386.2" stroke="#000" stroke-width="1.1"/>
<text x="449.6" y="393.8" font-size="8.4" text-anchor="end" fill="#111" stroke="#111" stroke-width="0.21" transform="rotate(-45 449.6 393.8)">Ifit3</text>
<line x1="471.5" y1="382.6" x2="471.5" y2="386.2" stroke="#000" stroke-width="1.1"/>
<text x="476.5" y="393.8" font-size="8.4" text-anchor="end" fill="#111" stroke="#111" stroke-width="0.21" transform="rotate(-45 476.5 393.8)">Mx1</text>
<line x1="498.5" y1="382.6" x2="498.5" y2="386.2" stroke="#000" stroke-width="1.1"/>
<text x="503.5" y="393.8" font-size="8.4" text-anchor="end" fill="#111" stroke="#111" stroke-width="0.21" transform="rotate(-45 503.5 393.8)">Irf7</text>
<text x="362.7" y="308.3" font-size="7.9" text-anchor="middle" fill="#111" stroke="#111" stroke-width="0.198" textLength="24.1" lengthAdjust="spacingAndGlyphs">0.1321</text>
<line x1="358.3" y1="310.2" x2="367.9" y2="310.2" stroke="#111" stroke-width="1.1"/>
<text x="390.4" y="350.0" font-size="7.9" text-anchor="middle" fill="#111" stroke="#111" stroke-width="0.198" textLength="24.1" lengthAdjust="spacingAndGlyphs">0.0525</text>
<line x1="385.2" y1="351.9" x2="394.8" y2="351.9" stroke="#111" stroke-width="1.1"/>
<text x="417.0" y="364.0" font-size="7.9" text-anchor="middle" fill="#111" stroke="#111" stroke-width="0.198" textLength="24.1" lengthAdjust="spacingAndGlyphs">0.0645</text>
<line x1="412.7" y1="365.6" x2="421.7" y2="365.6" stroke="#111" stroke-width="1.1"/>
<text x="444.2" y="341.0" font-size="8.5" text-anchor="middle" fill="#111" stroke="#111" stroke-width="0.213">*</text>
<line x1="439.2" y1="341.5" x2="449.8" y2="341.5" stroke="#111" stroke-width="1.1"/>
<text x="471.6" y="333.8" font-size="8.5" text-anchor="middle" fill="#111" stroke="#111" stroke-width="0.213">*</text>
<line x1="466.2" y1="334.6" x2="477.3" y2="334.6" stroke="#111" stroke-width="1.1"/>
<text x="498.0" y="350.6" font-size="8.5" text-anchor="middle" fill="#111" stroke="#111" stroke-width="0.213">*</text>
<line x1="492.7" y1="351.5" x2="503.7" y2="351.5" stroke="#111" stroke-width="1.1"/>
<text x="314.9" y="347.0" font-size="8.7" text-anchor="middle" fill="#111" stroke="#111" stroke-width="0.217" transform="rotate(-90 314.9 347.0)" textLength="76.3" lengthAdjust="spacingAndGlyphs">Relative expression</text>
<text x="326.8" y="347.4" font-size="8.9" text-anchor="middle" fill="#111" stroke="#111" stroke-width="0.223" transform="rotate(-90 326.8 347.4)" textLength="77" lengthAdjust="spacingAndGlyphs">(normalized to L32)</text>
<text x="7.2" y="480.4" font-size="12.9" text-anchor="start" font-weight="bold" fill="#000">E</text>
<text x="136.7" y="487.5" font-size="10" text-anchor="middle" font-weight="bold" fill="#111" textLength="103.8" lengthAdjust="spacingAndGlyphs">IFN-responsive genes</text>
<text x="136.6" y="499.4" font-size="10" text-anchor="middle" font-weight="bold" fill="#111" textLength="95.2" lengthAdjust="spacingAndGlyphs">Myeloid Progenitors</text>
<rect x="204.6" y="486.6" width="7.2" height="4.2" fill="#fff" stroke="#7fae57" stroke-width="1.1"/>
<text x="215.4" y="491.6" font-size="7.8" text-anchor="start" fill="#111" stroke="#111" stroke-width="0.195" textLength="32.9" lengthAdjust="spacingAndGlyphs">FLT3-ITD</text>
<rect x="204.6" y="498.6" width="7.2" height="4.0" fill="#fff" stroke="#4d3a66" stroke-width="1.1"/>
<text x="215.4" y="503.2" font-size="7.8" text-anchor="start" fill="#111" stroke="#111" stroke-width="0.195" textLength="55.7" lengthAdjust="spacingAndGlyphs">FLT3-ITD 155-/-</text>
<line x1="62.6" y1="563" x2="62.6" y2="564.4" stroke="#7fae57" stroke-width="1.2"/>
<line x1="60.6" y1="563" x2="64.6" y2="563" stroke="#7fae57" stroke-width="1.2"/>
<line x1="62.6" y1="571.5" x2="62.6" y2="572.5" stroke="#7fae57" stroke-width="1.2"/>
<line x1="60.6" y1="572.5" x2="64.6" y2="572.5" stroke="#7fae57" stroke-width="1.2"/>
<rect x="59.4" y="564.4" width="6.400000000000008" height="7.100000000000023" fill="#e6f4d8" stroke="#7fae57" stroke-width="1.2"/>
<line x1="59.4" y1="568.5" x2="65.80000000000001" y2="568.5" stroke="#7fae57" stroke-width="1.2"/>
<line x1="72.2" y1="519.6" x2="72.2" y2="527.9" stroke="#4d3a66" stroke-width="1.2"/>
<line x1="70.2" y1="519.6" x2="74.2" y2="519.6" stroke="#4d3a66" stroke-width="1.2"/>
<line x1="72.2" y1="568.5" x2="72.2" y2="571" stroke="#4d3a66" stroke-width="1.2"/>
<line x1="70.2" y1="571" x2="74.2" y2="571" stroke="#4d3a66" stroke-width="1.2"/>
<rect x="69.0" y="527.9" width="6.399999999999994" height="40.60000000000002" fill="#fff" stroke="#4d3a66" stroke-width="1.2"/>
<line x1="69.0" y1="555.8" x2="75.4" y2="555.8" stroke="#4d3a66" stroke-width="1.2"/>
<line x1="88.7" y1="562.6" x2="88.7" y2="564.4" stroke="#7fae57" stroke-width="1.2"/>
<line x1="86.7" y1="562.6" x2="90.7" y2="562.6" stroke="#7fae57" stroke-width="1.2"/>
<line x1="88.7" y1="571.5" x2="88.7" y2="572" stroke="#7fae57" stroke-width="1.2"/>
<line x1="86.7" y1="572" x2="90.7" y2="572" stroke="#7fae57" stroke-width="1.2"/>
<rect x="85.5" y="564.4" width="6.399999999999994" height="7.100000000000023" fill="#e6f4d8" stroke="#7fae57" stroke-width="1.2"/>
<line x1="85.5" y1="567.5" x2="91.9" y2="567.5" stroke="#7fae57" stroke-width="1.2"/>
<line x1="99.2" y1="554.3" x2="99.2" y2="555.8" stroke="#4d3a66" stroke-width="1.2"/>
<line x1="97.2" y1="554.3" x2="101.2" y2="554.3" stroke="#4d3a66" stroke-width="1.2"/>
<line x1="99.2" y1="566.4" x2="99.2" y2="569.5" stroke="#4d3a66" stroke-width="1.2"/>
<line x1="97.2" y1="569.5" x2="101.2" y2="569.5" stroke="#4d3a66" stroke-width="1.2"/>
<rect x="95.6" y="555.8" width="7.2000000000000055" height="10.600000000000023" fill="#fff" stroke="#4d3a66" stroke-width="1.2"/>
<line x1="95.6" y1="561.4" x2="102.80000000000001" y2="561.4" stroke="#4d3a66" stroke-width="1.2"/>
<rect x="114.35" y="566.3" width="5.05" height="3.7000000000000455" fill="#e6f4d8" stroke="#7fae57" stroke-width="1.2"/>
<line x1="114.35" y1="568" x2="119.4" y2="568" stroke="#7fae57" stroke-width="1.2"/>
<rect x="124.85" y="563.25" width="5.8" height="4.25" fill="#fff" stroke="#4d3a66" stroke-width="1.2"/>
<line x1="124.85" y1="565.5" x2="130.65" y2="565.5" stroke="#4d3a66" stroke-width="1.2"/>
<line x1="144.625" y1="561.5" x2="144.625" y2="562.5" stroke="#7fae57" stroke-width="1.2"/>
<line x1="142.625" y1="561.5" x2="146.625" y2="561.5" stroke="#7fae57" stroke-width="1.2"/>
<rect x="141.85" y="562.5" width="5.55" height="10.0" fill="#e6f4d8" stroke="#7fae57" stroke-width="1.2"/>
<line x1="141.85" y1="566.3" x2="147.4" y2="566.3" stroke="#7fae57" stroke-width="1.2"/>
<line x1="155.625" y1="539.5" x2="155.625" y2="542.5" stroke="#4d3a66" stroke-width="1.2"/>
<line x1="153.625" y1="539.5" x2="157.625" y2="539.5" stroke="#4d3a66" stroke-width="1.2"/>
<line x1="155.625" y1="567.5" x2="155.625" y2="568" stroke="#4d3a66" stroke-width="1.2"/>
<line x1="153.625" y1="568" x2="157.625" y2="568" stroke="#4d3a66" stroke-width="1.2"/>
<rect x="152.35" y="542.5" width="6.55" height="25.0" fill="#fff" stroke="#4d3a66" stroke-width="1.2"/>
<line x1="152.35" y1="565.75" x2="158.9" y2="565.75" stroke="#4d3a66" stroke-width="1.2"/>
<rect x="170.1" y="563.75" width="5.55" height="6.75" fill="#e6f4d8" stroke="#7fae57" stroke-width="1.2"/>
<line x1="170.1" y1="567.5" x2="175.65" y2="567.5" stroke="#7fae57" stroke-width="1.2"/>
<line x1="183.5" y1="537.5" x2="183.5" y2="543.75" stroke="#4d3a66" stroke-width="1.2"/>
<line x1="181.5" y1="537.5" x2="185.5" y2="537.5" stroke="#4d3a66" stroke-width="1.2"/>
<line x1="183.5" y1="563.75" x2="183.5" y2="568" stroke="#4d3a66" stroke-width="1.2"/>
<line x1="181.5" y1="568" x2="185.5" y2="568" stroke="#4d3a66" stroke-width="1.2"/>
<rect x="180.6" y="543.75" width="5.8" height="20.0" fill="#fff" stroke="#4d3a66" stroke-width="1.2"/>
<line x1="180.6" y1="559.5" x2="186.4" y2="559.5" stroke="#4d3a66" stroke-width="1.2"/>
<rect x="196.85" y="562" width="6.3" height="10.5" fill="#e6f4d8" stroke="#7fae57" stroke-width="1.2"/>
<line x1="196.85" y1="569.5" x2="203.15" y2="569.5" stroke="#7fae57" stroke-width="1.2"/>
<line x1="211.5" y1="527" x2="211.5" y2="535" stroke="#4d3a66" stroke-width="1.2"/>
<line x1="209.5" y1="527" x2="213.5" y2="527" stroke="#4d3a66" stroke-width="1.2"/>
<line x1="211.5" y1="566.25" x2="211.5" y2="568.75" stroke="#4d3a66" stroke-width="1.2"/>
<line x1="209.5" y1="568.75" x2="213.5" y2="568.75" stroke="#4d3a66" stroke-width="1.2"/>
<rect x="208.6" y="535" width="5.8" height="31.25" fill="#fff" stroke="#4d3a66" stroke-width="1.2"/>
<line x1="208.6" y1="561.25" x2="214.4" y2="561.25" stroke="#4d3a66" stroke-width="1.2"/>
<line x1="53.2" y1="509.8" x2="53.2" y2="579.5" stroke="#000" stroke-width="1.3"/>
<line x1="52.6" y1="578.9" x2="218.8" y2="578.9" stroke="#000" stroke-width="1.3"/>
<line x1="49.3" y1="510.5" x2="53.2" y2="510.5" stroke="#000" stroke-width="1.1"/>
<text x="47.4" y="513.5" font-size="8.4" text-anchor="end" fill="#111" stroke="#111" stroke-width="0.21">6</text>
<line x1="49.3" y1="533.3" x2="53.2" y2="533.3" stroke="#000" stroke-width="1.1"/>
<text x="47.4" y="536.3" font-size="8.4" text-anchor="end" fill="#111" stroke="#111" stroke-width="0.21">4</text>
<line x1="49.3" y1="556.1" x2="53.2" y2="556.1" stroke="#000" stroke-width="1.1"/>
<text x="47.4" y="559.1" font-size="8.4" text-anchor="end" fill="#111" stroke="#111" stroke-width="0.21">2</text>
<line x1="49.3" y1="578.9" x2="53.2" y2="578.9" stroke="#000" stroke-width="1.1"/>
<text x="47.4" y="581.9" font-size="8.4" text-anchor="end" fill="#111" stroke="#111" stroke-width="0.21">0</text>
<line x1="66.7" y1="578.9" x2="66.7" y2="582.5" stroke="#000" stroke-width="1.1"/>
<text x="71.5" y="589.8" font-size="8.4" text-anchor="end" fill="#111" stroke="#111" stroke-width="0.21" transform="rotate(-45 71.5 589.8)">Cxcl10</text>
<line x1="94.6" y1="578.9" x2="94.6" y2="582.5" stroke="#000" stroke-width="1.1"/>
<text x="99.39999999999999" y="589.8" font-size="8.4" text-anchor="end" fill="#111" stroke="#111" stroke-width="0.21" transform="rotate(-45 99.39999999999999 589.8)">Stat1</text>
<line x1="122.5" y1="578.9" x2="122.5" y2="582.5" stroke="#000" stroke-width="1.1"/>
<text x="127.3" y="589.8" font-size="8.4" text-anchor="end" fill="#111" stroke="#111" stroke-width="0.21" transform="rotate(-45 127.3 589.8)">Ifit2</text>
<line x1="150.3" y1="578.9" x2="150.3" y2="582.5" stroke="#000" stroke-width="1.1"/>
<text x="155.10000000000002" y="589.8" font-size="8.4" text-anchor="end" fill="#111" stroke="#111" stroke-width="0.21" transform="rotate(-45 155.10000000000002 589.8)">Ifit3</text>
<line x1="178.2" y1="578.9" x2="178.2" y2="582.5" stroke="#000" stroke-width="1.1"/>
<text x="183.0" y="589.8" font-size="8.4" text-anchor="end" fill="#111" stroke="#111" stroke-width="0.21" transform="rotate(-45 183.0 589.8)">Mx1</text>
<line x1="206.2" y1="578.9" x2="206.2" y2="582.5" stroke="#000" stroke-width="1.1"/>
<text x="211.0" y="589.8" font-size="8.4" text-anchor="end" fill="#111" stroke="#111" stroke-width="0.21" transform="rotate(-45 211.0 589.8)">Irf7</text>
<text x="66.5" y="512.2" font-size="7.9" text-anchor="middle" fill="#111" stroke="#111" stroke-width="0.198" textLength="24.1" lengthAdjust="spacingAndGlyphs">0.0927</text>
<line x1="61.6" y1="514.0" x2="72.2" y2="514.0" stroke="#111" stroke-width="1.1"/>
<text x="94.4" y="547.7" font-size="7.9" text-anchor="middle" fill="#111" stroke="#111" stroke-width="0.198" textLength="24.1" lengthAdjust="spacingAndGlyphs">0.0515</text>
<line x1="88.7" y1="549.5" x2="100.1" y2="549.5" stroke="#111" stroke-width="1.1"/>
<text x="122.9" y="556.0" font-size="7.9" text-anchor="middle" fill="#111" stroke="#111" stroke-width="0.198" textLength="24.1" lengthAdjust="spacingAndGlyphs">0.1285</text>
<line x1="117.5" y1="558.0" x2="127.5" y2="558.0" stroke="#111" stroke-width="1.1"/>
<text x="150.0" y="534.0" font-size="7.9" text-anchor="middle" fill="#111" stroke="#111" stroke-width="0.198" textLength="24.1" lengthAdjust="spacingAndGlyphs">0.1286</text>
<line x1="145.0" y1="535.5" x2="155.0" y2="535.5" stroke="#111" stroke-width="1.1"/>
<text x="178.0" y="532.6" font-size="8.5" text-anchor="middle" fill="#111" stroke="#111" stroke-width="0.213">*</text>
<line x1="172.5" y1="533.0" x2="183.0" y2="533.0" stroke="#111" stroke-width="1.1"/>
<text x="205.6" y="521.5" font-size="7.9" text-anchor="middle" fill="#111" stroke="#111" stroke-width="0.198" textLength="24.1" lengthAdjust="spacingAndGlyphs">0.1006</text>
<line x1="200.0" y1="523.0" x2="210.5" y2="523.0" stroke="#111" stroke-width="1.1"/>
<text x="23.2" y="543.6" font-size="8.7" text-anchor="middle" fill="#111" stroke="#111" stroke-width="0.217" transform="rotate(-90 23.2 543.6)" textLength="76" lengthAdjust="spacingAndGlyphs">Relative expression</text>
<text x="34.6" y="543.6" font-size="8.9" text-anchor="middle" fill="#111" stroke="#111" stroke-width="0.223" transform="rotate(-90 34.6 543.6)" textLength="77" lengthAdjust="spacingAndGlyphs">(normalized to L32)</text>
<text x="301.0" y="479.2" font-size="12.9" text-anchor="start" font-weight="bold" fill="#000">F</text>
<text x="348.2" y="519.4" font-size="8.0" text-anchor="start" fill="#111" stroke="#111" stroke-width="0.2" transform="rotate(-43 348.2 519.4)">FLT3-ITD 1</text>
<text x="371.6" y="519.4" font-size="8.0" text-anchor="start" fill="#111" stroke="#111" stroke-width="0.2" transform="rotate(-43 371.6 519.4)">FLT3-ITD 2</text>
<text x="395.2" y="519.4" font-size="8.0" text-anchor="start" fill="#111" stroke="#111" stroke-width="0.2" transform="rotate(-43 395.2 519.4)">FLT3-ITD 3</text>
<text x="417.4" y="519.4" font-size="8.0" text-anchor="start" fill="#111" stroke="#111" stroke-width="0.2" transform="rotate(-43 417.4 519.4)">FLT3-ITD 155-/- 1</text>
<text x="439.2" y="519.4" font-size="8.0" text-anchor="start" fill="#111" stroke="#111" stroke-width="0.2" transform="rotate(-43 439.2 519.4)">FLT3-ITD 155-/- 2</text>
<text x="460.9" y="519.4" font-size="8.0" text-anchor="start" fill="#111" stroke="#111" stroke-width="0.2" transform="rotate(-43 460.9 519.4)">FLT3-ITD 155-/- 3</text>
<defs><filter id="bl1" x="-30%" y="-50%" width="160%" height="200%"><feGaussianBlur stdDeviation="1.6"/></filter><filter id="bl2" x="-30%" y="-80%" width="160%" height="260%"><feGaussianBlur stdDeviation="0.9"/></filter><filter id="bl3" x="-10%" y="-10%" width="120%" height="120%"><feGaussianBlur stdDeviation="0.6"/></filter><linearGradient id="bg1" x1="0" x2="0" y1="0" y2="1"><stop offset="0" stop-color="#dedede"/><stop offset="0.75" stop-color="#e6e6e6"/><stop offset="1" stop-color="#f4f4f4"/></linearGradient><linearGradient id="bg2" x1="0" x2="0" y1="0" y2="1"><stop offset="0" stop-color="#f2f2f2"/><stop offset="1" stop-color="#f6f6f6"/></linearGradient></defs>
<rect x="331.2" y="524.0" width="143.3" height="33.6" fill="url(#bg1)" stroke="none" stroke-width="1"/>
<g filter="url(#bl1)">
<rect x="337.5" y="535" width="18.0" height="17" rx="2.5" fill="#8a8a8a"/>
<rect x="337.5" y="537.5" width="18.0" height="6.5" rx="2.5" fill="#6a6a6a"/>
<rect x="337.5" y="547" width="18.0" height="3" rx="2.5" fill="#7a7a7a"/>
<rect x="360.5" y="535.5" width="17.5" height="16.5" rx="2.5" fill="#929292"/>
<rect x="360.5" y="538" width="17.5" height="6" rx="2.5" fill="#787878"/>
<rect x="360.5" y="547" width="17.5" height="3" rx="2.5" fill="#828282"/>
<rect x="384.5" y="536" width="17.5" height="15" rx="2.5" fill="#9a9a9a"/>
<rect x="384.5" y="538.5" width="17.5" height="5.5" rx="2.5" fill="#808080"/>
<rect x="384.5" y="547" width="17.5" height="2.5" rx="2.5" fill="#8c8c8c"/>
<rect x="406" y="530" width="21" height="23" rx="2.5" fill="#0a0a0a"/>
<rect x="406" y="532" width="21" height="19" rx="2.5" fill="#000"/>
<rect x="430" y="534.5" width="16" height="17.5" rx="2.5" fill="#606060"/>
<rect x="430" y="536.5" width="16" height="4.5" rx="2.5" fill="#262626"/>
<rect x="430" y="543" width="16" height="6.5" rx="2.5" fill="#4a4a4a"/>
<rect x="451.5" y="532.5" width="16.0" height="19.0" rx="2.5" fill="#404040"/>
<rect x="451.5" y="534.5" width="16.0" height="5.5" rx="2.5" fill="#0a0a0a"/>
<rect x="451.5" y="542" width="16.0" height="7.5" rx="2.5" fill="#262626"/>
</g>
<rect x="331.2" y="524.0" width="143.3" height="33.6" fill="none" stroke="#000" stroke-width="1.5"/>
<rect x="331.1" y="571.4" width="143.4" height="25.1" fill="url(#bg2)" stroke="none" stroke-width="1"/>
<g filter="url(#bl2)">
<rect x="337.0" y="579.8" width="17.80000000000001" height="5.000000000000068" rx="2.6" fill="#0a0a0a"/>
<rect x="360.1" y="579.6" width="17.19999999999999" height="4.999999999999955" rx="2.6" fill="#0a0a0a"/>
<rect x="382.6" y="579.6" width="17.5" height="4.999999999999955" rx="2.6" fill="#0a0a0a"/>
<rect x="405.7" y="580.0" width="16.80000000000001" height="5.2" rx="2.6" fill="#0a0a0a"/>
<rect x="427.0" y="580.6" width="17.19999999999999" height="5.399999999999932" rx="2.6" fill="#0a0a0a"/>
<rect x="449.0" y="580.4" width="16.80000000000001" height="5.400000000000046" rx="2.6" fill="#0a0a0a"/>
</g>
<rect x="331.1" y="571.4" width="143.4" height="25.1" fill="none" stroke="#000" stroke-width="1.5"/>
<text x="301.9" y="544.5" font-size="8.9" text-anchor="start" fill="#111" stroke="#111" stroke-width="0.223" textLength="24.3" lengthAdjust="spacingAndGlyphs">STAT1</text>
<text x="302.9" y="587.2" font-size="8.9" text-anchor="start" fill="#111" stroke="#111" stroke-width="0.223" textLength="24.3" lengthAdjust="spacingAndGlyphs">ACTIN</text>
<rect x="0.6" y="0.6" width="518.8" height="614.8" fill="none" stroke="#000" stroke-width="1.6"/>
</svg></body></html>
